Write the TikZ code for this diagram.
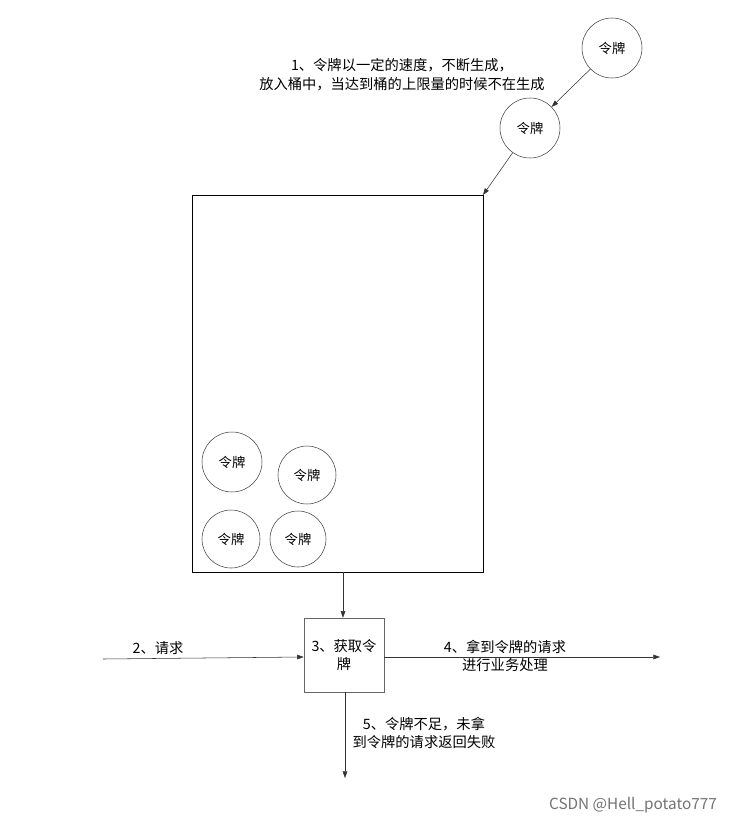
\documentclass[tikz,border=0pt]{standalone}
\usepackage{fontspec}
\setmainfont{Noto Sans CJK SC}
\usetikzlibrary{arrows.meta}
\begin{document}
\begin{tikzpicture}[x=0.75pt,y=-0.75pt,
  tok/.style={draw=black!75,circle,minimum size=#1*0.75pt,inner sep=0pt,font=\fontsize{10}{12}\selectfont},
  lbl/.style={font=\fontsize{10.7}{14}\selectfont,align=center,inner sep=0pt},
  arr/.style={draw=black!80,-{Triangle[length=5pt,width=3.5pt]}}]
\useasboundingbox[fill=white] (0,0) rectangle (752,825);
\node[tok=60] (t1) at (612,48) {令牌};
\node[tok=60] (t2) at (530,128) {令牌};
\node[draw=black,minimum width=291*0.75pt,minimum height=377*0.75pt,inner sep=0pt] (bucket) at (337.5,383.5) {};
\coordinate (bc) at (483,195);
\node[tok=60] (a) at (232,462) {令牌};
\node[tok=58] (b) at (307,475) {令牌};
\node[tok=58] (c) at (231,539) {令牌};
\node[tok=56] (d) at (298,539) {令牌};
\node[draw=black!60,minimum width=80*0.75pt,minimum height=74*0.75pt,inner sep=0pt,lbl,align=center] (get) at (344,655) {3、获取令\\牌};
\draw[arr] (t1) -- (t2);
\draw[arr] (t2) -- (bc);
\draw[arr] (343,572) -- (get.north -| 343,0);
\coordinate (L) at (103,659);
\coordinate (R) at (660,657);
\coordinate (D) at (345,778);
\draw[arr] (L) -- (get.west |- 0,657);
\draw[arr] (get.east |- 0,657) -- (R);
\draw[arr] (get.south -| 345,0) -- (D);
\node[lbl] at (402,75) {1、令牌以一定的速度，不断生成，\\放入桶中，当达到桶的上限量的时候不在生成};
\node[lbl] at (158,648) {2、请求};
\node[lbl] at (505,656) {4、拿到令牌的请求\\进行业务处理};
\node[lbl] at (424,733) {5、令牌不足，未拿\\到令牌的请求返回失败};
\node[font=\fontsize{11.5}{13}\selectfont,text=black!55] at (633,805) {CSDN @Hell\_potato777};
\end{tikzpicture}
\end{document}
